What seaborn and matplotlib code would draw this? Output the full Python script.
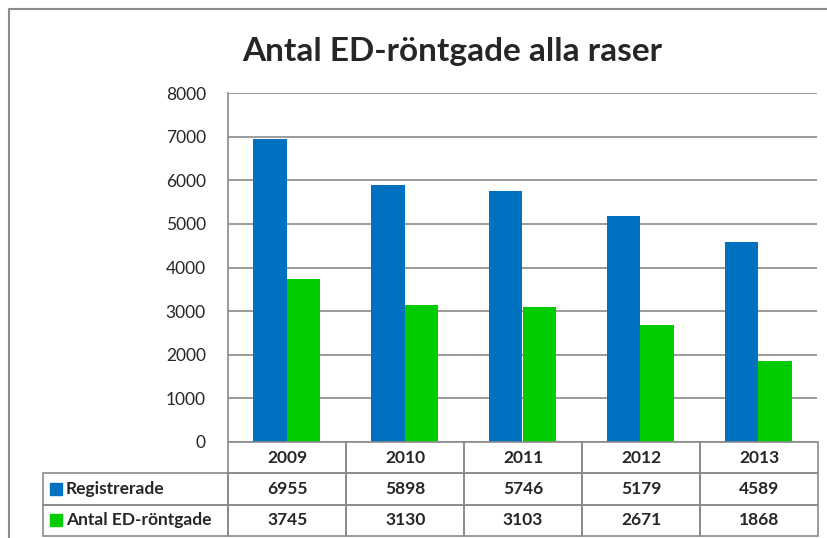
import numpy as np
import pandas as pd
import matplotlib
matplotlib.use("Agg")
import matplotlib.pyplot as plt
import seaborn as sns
from matplotlib.table import Table
from matplotlib.patches import Rectangle
from matplotlib.lines import Line2D

# data
years = ["2009", "2010", "2011", "2012", "2013"]
registrerade = [6955, 5898, 5746, 5179, 4589]
rontgade = [3745, 3130, 3103, 2671, 1868]
series_names = ["Registrerade", "Antal ED-röntgade"]
series_colors = ["#0070C0", "#00CC00"]
yticks = [0, 1000, 2000, 3000, 4000, 5000, 6000, 7000, 8000]

W, H = 828, 538
GRAY = "#8a8a8a"


def fx(px):
    return px / W


def fy(py):
    return 1 - py / H


def main():
    sns.set_style("white")
    plt.rcParams["font.family"] = ["Lato", "DejaVu Sans"]

    df = pd.DataFrame({
        "year": years * 2,
        "value": registrerade + rontgade,
        "series": [series_names[0]] * len(years) + [series_names[1]] * len(years),
    })

    fig = plt.figure(figsize=(W / 100, H / 100), dpi=100)
    ax = fig.add_axes([fx(228), fy(442), fx(817) - fx(228), fy(93) - fy(442)])

    sns.barplot(data=df, x="year", y="value", hue="series", palette=series_colors,
                width=0.57, saturation=1, linewidth=0, ax=ax, legend=False, errorbar=None)

    ax.set_ylim(0, 8000)
    ax.set_yticks(yticks)
    ax.set_yticklabels([str(t) for t in yticks], fontsize=12.5)
    ax.tick_params(axis="y", length=0, pad=16)
    ax.set_xticks([])
    ax.set_xlabel("")
    ax.set_ylabel("")
    ax.grid(axis="y", color=GRAY, linewidth=1.2)
    ax.set_axisbelow(True)
    for side in ["top", "right", "bottom"]:
        ax.spines[side].set_visible(False)
    ax.spines["left"].set_color(GRAY)
    ax.spines["left"].set_linewidth(1.2)

    # data table below the plot
    tax = fig.add_axes([fx(43), fy(536), fx(818) - fx(43), fy(442) - fy(536)])
    tax.set_axis_off()
    tab = Table(tax, bbox=[0, 0, 1, 1])
    label_w, col_w, row_h = 185, 117.8, 31.3
    rows = [years, [str(v) for v in registrerade], [str(v) for v in rontgade]]
    for r, row in enumerate(rows):
        if r > 0:
            tab.add_cell(r, 0, label_w, row_h, text="", facecolor="none", edgecolor=GRAY)
        for c, txt in enumerate(row):
            tab.add_cell(r, c + 1, col_w, row_h, text=txt, loc="center",
                         facecolor="none", edgecolor=GRAY)
    tab.auto_set_font_size(False)
    tab.set_fontsize(12.5)
    for cell in tab.get_celld().values():
        cell.get_text().set_fontweight("bold")
        cell.set_linewidth(1.2)
    tax.add_table(tab)

    # legend keys inside the row labels
    for name, color, yc in zip(series_names, series_colors, [489, 520]):
        fig.patches.append(Rectangle((fx(50), fy(yc + 6)), fx(12), fy(yc - 6) - fy(yc + 6),
                                     transform=fig.transFigure, color=color))
        fig.text(fx(66), fy(yc), name, fontsize=12.5, fontweight="bold",
                 ha="left", va="center")

    fig.suptitle("Antal ED-röntgade alla raser", x=fx(452), y=fy(52), va="center",
                 fontsize=24, fontweight="bold")

    # chart frame
    fig.lines.append(Line2D([fx(9), fx(9), 1], [0, fy(9), fy(9)],
                            transform=fig.transFigure, color=GRAY, linewidth=1.5))

    fig.savefig("out.png", dpi=100)


if __name__ == "__main__":
    main()
